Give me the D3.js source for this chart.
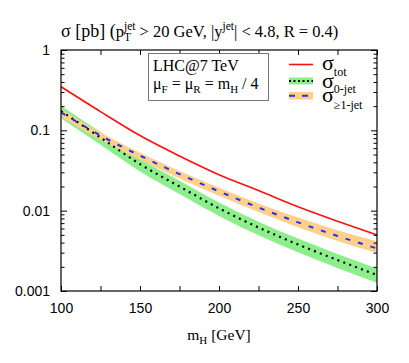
<!DOCTYPE html>
<html><head><meta charset="utf-8">
<script src="https://cdn.jsdelivr.net/npm/d3@7"></script>
<style>html,body{margin:0;padding:0;background:#fff;}svg{display:block;}</style>
</head><body>
<svg id="c" width="409" height="363"></svg>
<script>
const mH      = [100, 125, 150, 175, 200, 225, 250, 275, 300];
const sigTot  = [0.349, 0.171, 0.0861, 0.0479, 0.0280, 0.0178, 0.0112, 0.0074, 0.0050];
const sig0    = [0.1738, 0.0813, 0.0380, 0.0200, 0.0107, 0.00617, 0.0038, 0.00243, 0.00158];
const sig0Lo  = [0.141, 0.066, 0.0307, 0.0161, 0.0086, 0.00495, 0.00304, 0.00194, 0.00127];
const sig0Hi  = [0.202, 0.095, 0.0445, 0.0235, 0.0126, 0.00727, 0.00449, 0.00289, 0.00191];
const sig1    = [0.168, 0.0861, 0.0484, 0.0285, 0.0174, 0.01096, 0.00716, 0.00484, 0.00339];
const sig1Lo  = [0.148, 0.0762, 0.0430, 0.0252, 0.0153, 0.0096, 0.0062, 0.0042, 0.00298];
const sig1Hi  = [0.183, 0.094, 0.0525, 0.0312, 0.0193, 0.0123, 0.0082, 0.0057, 0.00415];
const xMajor  = [100, 150, 200, 250, 300];
const xMinor  = [125, 175, 225, 275];
const yMajor  = [0.001, 0.01, 0.1, 1];
const yLabels = ["0.001", "0.01", "0.1", "1"];

const svg = d3.select("#c");
const L = 61, R = 377, T = 50, B = 291;
const x = d3.scaleLinear().domain([100, 300]).range([L, R]);
const y = d3.scaleLog().domain([0.001, 1]).range([B, T]);

const yMinor = [];
[0.001, 0.01, 0.1].forEach(d => { for (let k = 2; k <= 9; k++) yMinor.push(d * k); });

const serif = "Liberation Serif";
const sans = "Liberation Sans";

svg.append("defs").append("clipPath").attr("id", "clip")
  .append("rect").attr("x", L).attr("y", T).attr("width", R - L).attr("height", B - T);

const rows = mH.map((m, i) => ({m, tot: sigTot[i], s0: sig0[i], s0lo: sig0Lo[i], s0hi: sig0Hi[i],
  s1: sig1[i], s1lo: sig1Lo[i], s1hi: sig1Hi[i]}));
const curve = d3.curveMonotoneX;
const g = svg.append("g").attr("clip-path", "url(#clip)");
const area = (lo, hi) => d3.area().x(d => x(d.m)).y0(d => y(d[lo])).y1(d => y(d[hi])).curve(curve);
const line = k => d3.line().x(d => x(d.m)).y(d => y(d[k])).curve(curve);

const GREEN = "#8cef8c", ORANGE = "#ffd08a", RED = "#ff1010", BLUE = "#2232f0";
g.append("path").datum(rows).attr("d", area("s0lo", "s0hi")).attr("fill", GREEN);
g.append("path").datum(rows).attr("d", area("s1lo", "s1hi")).attr("fill", ORANGE);
g.append("path").datum(rows).attr("d", line("tot")).attr("fill", "none").attr("stroke", RED).attr("stroke-width", 1.6);
g.append("path").datum(rows).attr("d", line("s0")).attr("fill", "none").attr("stroke", "#000")
  .attr("stroke-width", 2.2).attr("stroke-dasharray", "2,4.3");
g.append("path").datum(rows).attr("d", line("s1")).attr("fill", "none").attr("stroke", BLUE)
  .attr("stroke-width", 2).attr("stroke-dasharray", "5,8");

function styleAxis(sel) {
  sel.select(".domain").remove();
  sel.selectAll(".tick line").attr("stroke", "#000").attr("stroke-width", 1);
  sel.selectAll("text").attr("font-family", sans).attr("font-size", 14).attr("fill", "#000");
}
svg.append("g").attr("transform", `translate(0,${B})`)
  .call(d3.axisBottom(x).tickValues(xMajor).tickSizeInner(-5).tickSizeOuter(0).tickPadding(9).tickFormat(d3.format("d")))
  .call(styleAxis).selectAll("text").attr("dy", "0.9em");
svg.append("g").attr("transform", `translate(0,${B})`)
  .call(d3.axisBottom(x).tickValues(xMinor).tickSizeInner(-5).tickSizeOuter(0).tickFormat(""))
  .call(styleAxis);
svg.append("g").attr("transform", `translate(0,${T})`)
  .call(d3.axisTop(x).tickValues(xMajor.concat(xMinor)).tickSizeInner(-5).tickSizeOuter(0).tickFormat(""))
  .call(styleAxis);
svg.append("g").attr("transform", `translate(${L},0)`)
  .call(d3.axisLeft(y).tickValues(yMajor).tickSizeInner(-6).tickSizeOuter(0).tickPadding(11)
    .tickFormat((d, i) => yLabels[i]))
  .call(styleAxis);
svg.append("g").attr("transform", `translate(${L},0)`)
  .call(d3.axisLeft(y).tickValues(yMinor).tickSizeInner(-3.5).tickSizeOuter(0).tickFormat(""))
  .call(styleAxis);
svg.append("g").attr("transform", `translate(${R},0)`)
  .call(d3.axisRight(y).tickValues(yMajor).tickSizeInner(-6).tickSizeOuter(0).tickFormat(""))
  .call(styleAxis);
svg.append("g").attr("transform", `translate(${R},0)`)
  .call(d3.axisRight(y).tickValues(yMinor).tickSizeInner(-3.5).tickSizeOuter(0).tickFormat(""))
  .call(styleAxis);
svg.append("rect").attr("x", L).attr("y", T).attr("width", R - L).attr("height", B - T)
  .attr("fill", "none").attr("stroke", "#000").attr("stroke-width", 1.2);

function rich(x0, y0, parts, anchor) {
  const grp = svg.append("g");
  let cx = x0;
  parts.forEach(p => {
    if (p.sup !== undefined || p.sub !== undefined) {
      let w = 0;
      if (p.sup) {
        const t = grp.append("text").attr("x", cx).attr("y", y0 + p.supDy).attr("font-family", serif)
          .attr("font-size", p.size).text(p.sup);
        w = Math.max(w, t.node().getComputedTextLength());
      }
      if (p.sub) {
        const t = grp.append("text").attr("x", cx).attr("y", y0 + p.subDy).attr("font-family", serif)
          .attr("font-size", p.size).text(p.sub);
        w = Math.max(w, t.node().getComputedTextLength());
      }
      cx += w;
    } else {
      const t = grp.append("text").attr("x", cx).attr("y", y0 + (p.dy || 0)).attr("font-family", serif)
        .attr("font-size", p.size).style("white-space", "pre").text(p.t);
      cx += t.node().getComputedTextLength();
    }
  });
  if (anchor === "middle") {
    const w = cx - x0;
    grp.attr("transform", `translate(${-w / 2},0)`);
  }
  return grp;
}

// title
rich(61, 37, [
  {t: "σ [pb] (", size: 18},
  {t: "p", size: 16.5},
  {sup: "jet", sub: "T", size: 11.5, supDy: -7, subDy: 4},
  {t: " > 20 GeV, |y", size: 16.5},
  {sup: "jet", size: 11.5, supDy: -7},
  {t: "| < 4.8, R = 0.4)", size: 16.5}
]);

// x label
rich(219, 340, [
  {t: "m", size: 15.5},
  {sub: "H", size: 11, subDy: 4},
  {t: " [GeV]", size: 15.5}
], "middle");

// info box
svg.append("rect").attr("x", 148.5).attr("y", 53.5).attr("width", 120).attr("height", 47)
  .attr("fill", "#fff").attr("stroke", "#777").attr("stroke-width", 1);
rich(153, 71, [{t: "LHC@7 TeV", size: 16}]);
rich(153, 89, [
  {t: "μ", size: 16}, {sub: "F", size: 11, subDy: 4},
  {t: " = μ", size: 16}, {sub: "R", size: 11, subDy: 4},
  {t: " = m", size: 16}, {sub: "H", size: 11, subDy: 4},
  {t: " / 4", size: 16}
]);

// legend
const lx0 = 289, lx1 = 313;
svg.append("line").attr("x1", lx0).attr("x2", lx1).attr("y1", 64.5).attr("y2", 64.5)
  .attr("stroke", RED).attr("stroke-width", 1.6);
svg.append("rect").attr("x", lx0).attr("y", 77.5).attr("width", lx1 - lx0).attr("height", 7).attr("fill", GREEN);
svg.append("line").attr("x1", lx0).attr("x2", lx1).attr("y1", 81).attr("y2", 81)
  .attr("stroke", "#000").attr("stroke-width", 2.2).attr("stroke-dasharray", "2,2.5");
svg.append("rect").attr("x", lx0).attr("y", 92).attr("width", lx1 - lx0).attr("height", 7.5).attr("fill", ORANGE);
svg.append("line").attr("x1", lx0).attr("x2", lx1).attr("y1", 95.7).attr("y2", 95.7)
  .attr("stroke", BLUE).attr("stroke-width", 2).attr("stroke-dasharray", "6,7");

rich(322, 70, [{t: "σ", size: 22}, {sub: "tot", size: 12, subDy: 5.5}]);
rich(322, 88, [{t: "σ", size: 22}, {sub: "0-jet", size: 12, subDy: 4.5}]);
rich(322, 102, [{t: "σ", size: 22}, {sub: "≥1-jet", size: 12, subDy: 7}]);
</script>
</body></html>
